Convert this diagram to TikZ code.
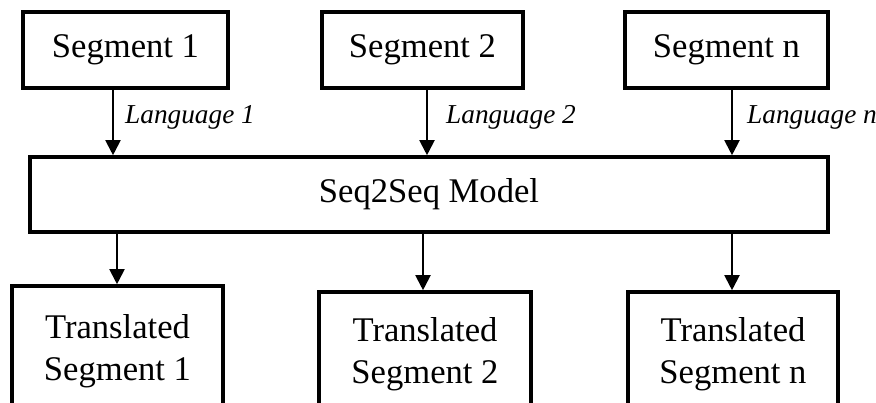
\documentclass[tikz,border=0pt]{standalone}
\usepackage{fontspec}
\setmainfont{Liberation Serif}
\usetikzlibrary{arrows.meta}
\begin{document}
\begin{tikzpicture}[x=1pt,y=-1pt,
  box/.style={draw=black, line width=3.6pt, inner sep=0pt, align=center,
    font=\fontsize{34.6}{42}\selectfont},
  lang/.style={font=\fontsize{27.3}{30}\selectfont\itshape, anchor=west, inner sep=0pt},
  arr/.style={line width=2pt, -{Triangle[length=15pt,width=15pt]}}]
\useasboundingbox (0,0) rectangle (876,402);
\fill[white] (0,0) rectangle (876,402);
% top segment boxes
\node[box, minimum width=205pt, minimum height=76pt] (s1) at (125.5,50) {Segment 1};
\node[box, minimum width=201pt, minimum height=76pt] (s2) at (422.5,50) {Segment 2};
\node[box, minimum width=203pt, minimum height=76pt] (sn) at (726.5,50) {Segment n};
% model
\node[box, minimum width=798pt, minimum height=75pt] (seq) at (429,194.5) {Seq2Seq Model};
% bottom boxes
\node[box, minimum width=211pt, minimum height=130pt] (t1) at (117.5,351) {Translated\\Segment 1};
\node[box, minimum width=212pt, minimum height=124pt] (t2) at (425,354) {Translated\\Segment 2};
\node[box, minimum width=210pt, minimum height=124pt] (tn) at (733,354) {Translated\\Segment n};
% arrow anchor coordinates
\coordinate (a1) at (113,0);
\coordinate (a2) at (427,0);
\coordinate (an) at (732,0);
\coordinate (b1) at (117,0);
\coordinate (b2) at (423,0);
\coordinate (bn) at (732,0);
% input arrows
\draw[arr] (s1.south -| a1) -- (seq.north -| a1);
\draw[arr] (s2.south -| a2) -- (seq.north -| a2);
\draw[arr] (sn.south -| an) -- (seq.north -| an);
% labels
\node[lang] (l1) at (125,117) {Language 1};
\node[lang] (l2) at (446,117) {Language 2};
\node[lang] (ln) at (747,117) {Language n};
% output arrows
\draw[arr] (seq.south -| b1) -- (t1.north -| b1);
\draw[arr] (seq.south -| b2) -- (t2.north -| b2);
\draw[arr] (seq.south -| bn) -- (tn.north -| bn);
\end{tikzpicture}
\end{document}
